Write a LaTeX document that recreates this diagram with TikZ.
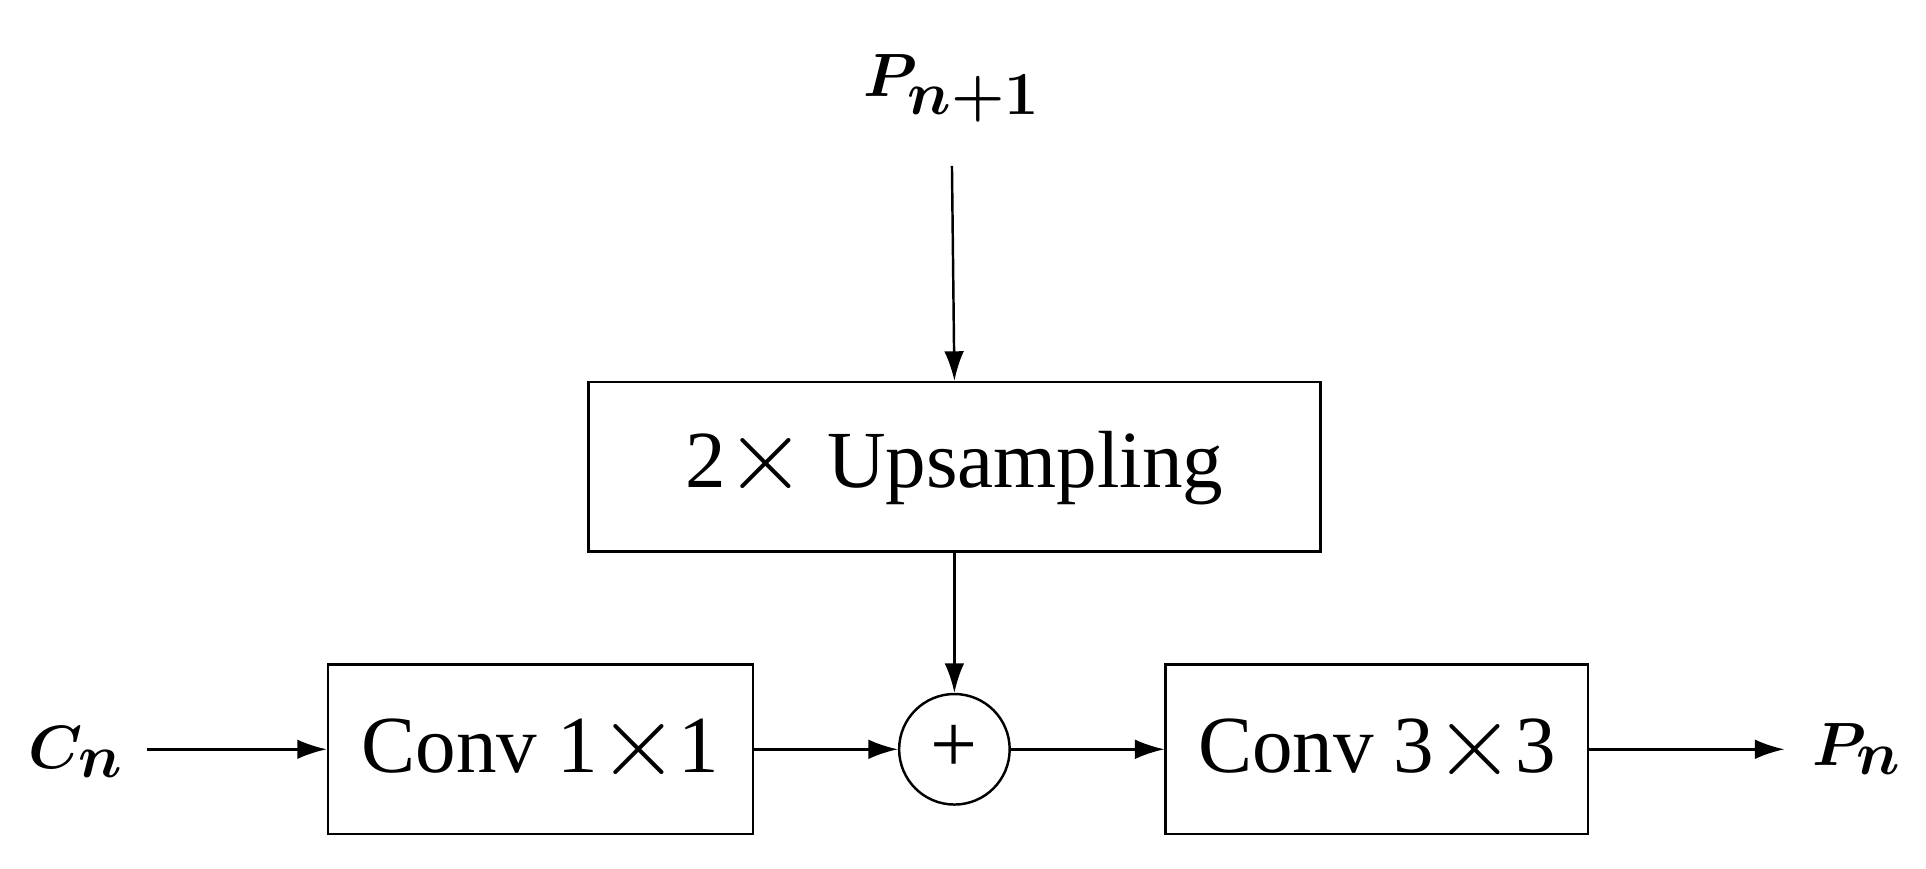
\documentclass[tikz,border=0pt]{standalone}
\usepackage{amsmath,bm}
\usepackage{fontspec}
\setmainfont{Liberation Serif}
\usetikzlibrary{arrows.meta}
\newcommand{\bigx}{\raisebox{-0.03em}{\scalebox{1.7}{$\times$}}}
\begin{document}
\begin{tikzpicture}[x=0.5pt,y=-0.5pt,
  box/.style={draw,line width=1pt,inner sep=0pt},
  lab/.style={font=\fontsize{36}{42}\selectfont},
  arr/.style={line width=1pt,-{Latex[length=12pt,width=8pt]}},
  txt/.style={font=\fontsize{33}{40}\selectfont}]
\useasboundingbox (0,0) rectangle (1568,707);
\node[lab] (p1) at (775,72) {$\bm{P_{n+1}}$};
\node[box,minimum width=298pt,minimum height=69pt,txt] (up) at (777,380) {2\bigx\ Upsampling};
\node[box,minimum width=173pt,minimum height=69pt,txt] (c1) at (440,610) {Conv 1\bigx 1};
\node[box,minimum width=172pt,minimum height=69pt,txt] (c3) at (1121,610) {Conv 3\bigx 3};
\node[draw,circle,line width=1pt,minimum size=45pt,inner sep=0pt,font=\fontsize{34}{40}\selectfont] (add) at (777,610) {+};
\node[lab,anchor=center] (cn) at (62,612) {$\bm{C_n}$};
\node[lab] (pn) at (1512,610) {$\bm{P_n}$};
\coordinate (s1) at (775,135);
\coordinate (cs) at (120,610);
\draw[arr] (s1) -- (up.north);
\draw[arr] (up.south) -- (add.north);
\draw[arr] (cs) -- (c1.west);
\draw[arr] (c1.east) -- (add.west);
\draw[arr] (add.east) -- (c3.west);
\draw[arr] (c3.east) -- ([xshift=-8pt]pn.west);
\end{tikzpicture}
\end{document}
